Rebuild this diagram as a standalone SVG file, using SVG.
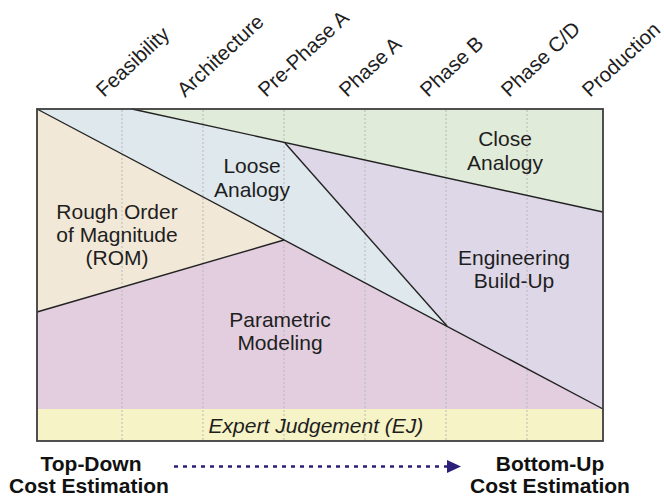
<svg xmlns="http://www.w3.org/2000/svg" width="664" height="500" viewBox="0 0 664 500">
<style>
.lbl{font-family:"Liberation Sans",Arial,sans-serif;font-size:21px;fill:#1e1e1e;text-anchor:middle}
.ph{font-family:"Liberation Sans",Arial,sans-serif;font-size:20.5px;fill:#1e1e1e}
.bold{font-family:"Liberation Sans",Arial,sans-serif;font-size:21px;font-weight:bold;fill:#111;text-anchor:middle}
.edge{fill:none;stroke:#222;stroke-width:1.4}
.grid{stroke:#b9b9b9;stroke-width:1;stroke-dasharray:2 2}
</style>
<defs>
<marker id="ah" markerWidth="14" markerHeight="13" refX="1" refY="6.5" orient="auto" markerUnits="userSpaceOnUse">
<path d="M0,0 L14,6.5 L0,13 Z" fill="#2b1f7a"/>
</marker>
</defs>
<rect width="664" height="500" fill="#fff"/>
<g id="ej">
<rect x="37" y="409" width="566" height="32" fill="#f6f3c6"/>
</g>
<g id="rom">
<polygon points="37,109 284,240 37,312" fill="#f2e8d7"/>
</g>
<g id="loose">
<polygon points="37,109 132,109 285,143 447,326" fill="#dfe8ec"/>
</g>
<g id="close">
<polygon points="132,109 603,109 603,212" fill="#e1ebd9"/>
</g>
<g id="eng">
<polygon points="285,143 603,212 603,409 447,326" fill="#ddd7e7"/>
</g>
<g id="param">
<polygon points="37,312 284,240 447,326 603,409 37,409" fill="#e2cedf"/>
</g>
<g id="gridlines">
<line class="grid" x1="122" y1="110" x2="122" y2="440"/>
<line class="grid" x1="203" y1="110" x2="203" y2="440"/>
<line class="grid" x1="284" y1="110" x2="284" y2="440"/>
<line class="grid" x1="365" y1="110" x2="365" y2="440"/>
<line class="grid" x1="446" y1="110" x2="446" y2="440"/>
<line class="grid" x1="527" y1="110" x2="527" y2="440"/>
</g>
<g id="boundaries">
<line class="edge" x1="37" y1="109" x2="603" y2="409"/>
<line class="edge" x1="132" y1="109" x2="603" y2="212"/>
<line class="edge" x1="285" y1="143" x2="447" y2="326"/>
<line class="edge" x1="284" y1="240" x2="37" y2="312"/>
</g>
<rect x="37" y="109" width="566" height="332" fill="none" stroke="#3d3d3d" stroke-width="1.8"/>
<g id="labels-nodes">
<text class="lbl" x="117" y="219">Rough Order</text>
<text class="lbl" x="117" y="242">of Magnitude</text>
<text class="lbl" x="117" y="265">(ROM)</text>
<text class="lbl" x="252" y="173">Loose</text>
<text class="lbl" x="252" y="197">Analogy</text>
<text class="lbl" x="505" y="146">Close</text>
<text class="lbl" x="505" y="170">Analogy</text>
<text class="lbl" x="514" y="265">Engineering</text>
<text class="lbl" x="514" y="288">Build-Up</text>
<text class="lbl" x="280" y="327">Parametric</text>
<text class="lbl" x="280" y="350">Modeling</text>
<text class="lbl" x="316" y="433" font-style="italic">Expert Judgement (EJ)</text>
</g>
<g id="phases">
<text class="ph" transform="translate(104,98) rotate(-43)">Feasibility</text>
<text class="ph" transform="translate(185,98) rotate(-43)">Architecture</text>
<text class="ph" transform="translate(266,98) rotate(-43)">Pre-Phase A</text>
<text class="ph" transform="translate(347,98) rotate(-43)">Phase A</text>
<text class="ph" transform="translate(428,98) rotate(-43)">Phase B</text>
<text class="ph" transform="translate(509,98) rotate(-43)">Phase C/D</text>
<text class="ph" transform="translate(590,98) rotate(-43)">Production</text>
</g>
<g id="topdown">
<text class="bold" x="91" y="471">Top-Down</text>
<text class="bold" x="89" y="493">Cost Estimation</text>
</g>
<g id="bottomup">
<text class="bold" x="550" y="471">Bottom-Up</text>
<text class="bold" x="550" y="493">Cost Estimation</text>
</g>
<g id="connectors">
<line x1="174" y1="466.5" x2="448" y2="466.5" stroke="#2b1f7a" stroke-width="2.5" stroke-dasharray="4 5" marker-end="url(#ah)"/>
</g>
</svg>
